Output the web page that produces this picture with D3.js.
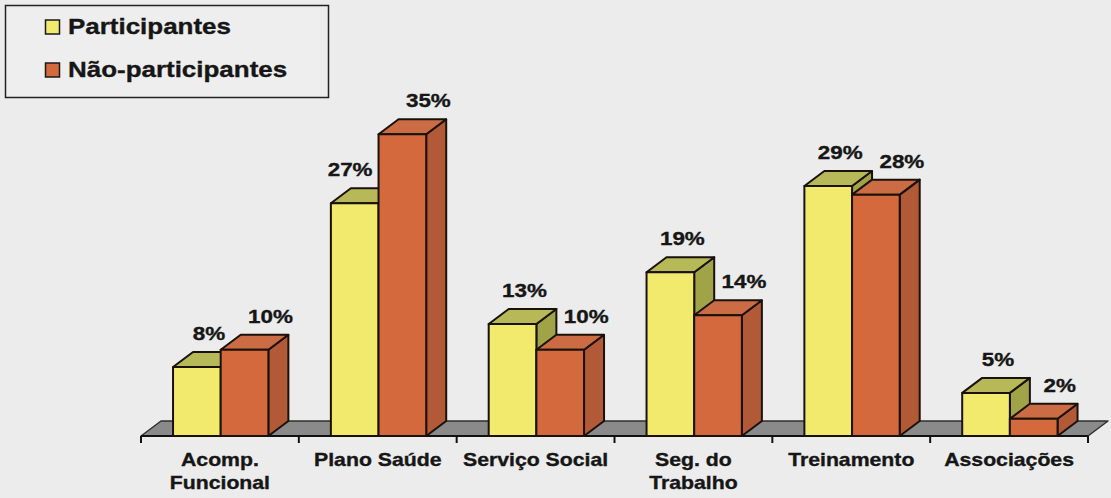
<!DOCTYPE html>
<html>
<head>
<meta charset="utf-8">
<script src="https://cdn.jsdelivr.net/npm/d3@7"></script>
<style>
  html, body { margin: 0; padding: 0; background: #ECECEC; }
  svg { display: block; }
  text { font-family: "Liberation Sans", Arial, Helvetica, sans-serif; font-weight: bold; fill: #161616; stroke: #161616; stroke-width: 0.35px; }
</style>
</head>
<body>
<svg id="chart" width="1111" height="498"></svg>
<script>
// Categories (line breaks mark two-line axis labels)
const categories = ["Acomp.\nFuncional", "Plano Saúde", "Serviço Social", "Seg. do\nTrabalho", "Treinamento", "Associações"];
const seriesNames = ["Participantes", "Não-participantes"];
// Percentages per category
const participantes = [8, 27, 13, 19, 29, 5];
const naoParticipantes = [10, 35, 10, 14, 28, 2];
const yDomain = [0, 40];

// Face colours: front / top / side
const palette = [
  { front: "#F1EA6C", top: "#B7B958", side: "#A1A348" },
  { front: "#D3693C", top: "#CB6C45", side: "#B25A38" }
];

const W = 1111, H = 498;
const stretch = 1.18;          // horizontal text stretch
const depth = { dx: 20, dy: 15 };
const outline = "#1a120a";

const svg = d3.select("#chart");
svg.append("rect").attr("width", W).attr("height", H).attr("fill", "#ECECEC");

const x = d3.scaleBand().domain(categories).range([141, 1088]).padding(0);
const y = d3.scaleLinear().domain(yDomain).range([436, 436 - 40 * 8.62]);
const bw = x.bandwidth();
const xs = d3.scaleBand().domain(seriesNames).range([bw * 0.203, bw * 0.203 + bw * 0.604]);

const base = y(0);
const series = [participantes, naoParticipantes];

function stretchedText(parent, tx, ty, str, size, anchor) {
  const g = parent.append("g").attr("transform", `translate(${tx},${ty}) scale(${stretch},1)`);
  return g.append("text").attr("text-anchor", anchor || "middle").attr("font-size", size).text(str);
}

// Floor slab
const floor = svg.append("g");
const fx0 = x.range()[0], fx1 = x.range()[1];
floor.append("path")
  .attr("d", `M${fx0},${base} L${fx1},${base} L${fx1 + depth.dx},${base - depth.dy} L${fx0 + depth.dx},${base - depth.dy} Z`)
  .attr("fill", "#8A8A8A").attr("stroke", "#2e2e2e").attr("stroke-width", 1.4).attr("stroke-linejoin", "round");
floor.append("line")
  .attr("x1", fx0).attr("x2", fx1).attr("y1", base).attr("y2", base)
  .attr("stroke", "#111").attr("stroke-width", 2);
const boundaries = categories.map(c => x(c)).concat([fx1]);
floor.selectAll("line.tick").data(boundaries).enter().append("line")
  .attr("class", "tick")
  .attr("x1", d => d).attr("x2", d => d)
  .attr("y1", base).attr("y2", base + 7)
  .attr("stroke", "#111").attr("stroke-width", 2);

// 3D bars
const bars = svg.append("g");
categories.forEach((c, i) => {
  seriesNames.forEach((s, k) => {
    const v = series[k][i];
    const x0 = x(c) + xs(s), x1 = x0 + xs.bandwidth();
    const top = y(v);
    const col = palette[k];
    const g = bars.append("g")
      .attr("stroke", outline).attr("stroke-width", 2).attr("stroke-linejoin", "round");
    // side face
    g.append("path")
      .attr("d", `M${x1},${base} L${x1},${top} L${x1 + depth.dx},${top - depth.dy} L${x1 + depth.dx},${base - depth.dy} Z`)
      .attr("fill", col.side);
    // top face
    g.append("path")
      .attr("d", `M${x0},${top} L${x1},${top} L${x1 + depth.dx},${top - depth.dy} L${x0 + depth.dx},${top - depth.dy} Z`)
      .attr("fill", col.top);
    // front face
    g.append("rect")
      .attr("x", x0).attr("y", top).attr("width", x1 - x0).attr("height", base - top)
      .attr("fill", col.front);
  });
});

// Value labels
const labels = svg.append("g");
const labelOffset = [12, 26];
categories.forEach((c, i) => {
  seriesNames.forEach((s, k) => {
    const v = series[k][i];
    const x0 = x(c) + xs(s);
    let cx = x0 + xs.bandwidth() / 2 + labelOffset[k];
    const baseline = y(v) - 27;
    const t = stretchedText(labels, cx, baseline, v + "%", 19);
    const w = t.node().getComputedTextLength() * stretch;
    if (k === 0) {
      // keep the label clear of a taller neighbouring bar
      const other = series[1][i];
      const ox = x(c) + xs(seriesNames[1]);
      const otherTop = y(other) - depth.dy;
      if (cx + w / 2 > ox - 4 && otherTop < baseline - 14) {
        cx = ox - 6 - w / 2;
        t.node().parentNode.setAttribute("transform", `translate(${cx},${baseline}) scale(${stretch},1)`);
      }
    }
  });
});

// Category labels
const catG = svg.append("g");
categories.forEach(c => {
  const cx = x(c) + bw / 2;
  c.split("\n").forEach((line, j) => {
    stretchedText(catG, cx, 466 + j * 23, line, 18);
  });
});

// Legend
const legend = svg.append("g");
legend.append("rect")
  .attr("x", 5.5).attr("y", 5.5).attr("width", 323).attr("height", 92)
  .attr("fill", "#EEEEEE").attr("stroke", "#222").attr("stroke-width", 1.5);
seriesNames.forEach((s, k) => {
  const by = 34 + k * 43;
  legend.append("rect")
    .attr("x", 45.5).attr("y", by - 14).attr("width", 14).attr("height", 14)
    .attr("fill", palette[k].front).attr("stroke", "#1a1a1a").attr("stroke-width", 1.5);
  stretchedText(legend, 68, by, s, 22, "start");
});
</script>
</body>
</html>
